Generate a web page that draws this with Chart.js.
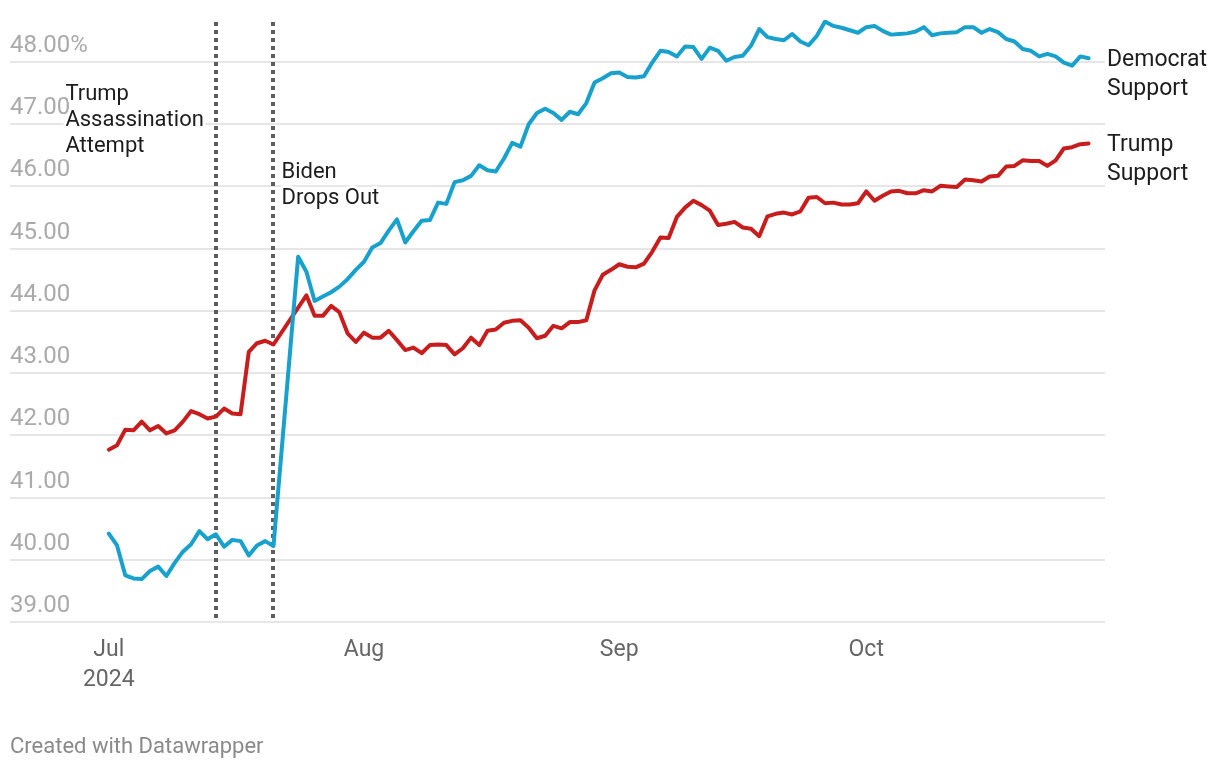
<!DOCTYPE html>
<html>
<head>
<meta charset="utf-8">
<script src="https://cdn.jsdelivr.net/npm/chart.js@4/dist/chart.umd.min.js"></script>
<style>
  html, body { margin: 0; padding: 0; background: #fff; }
  #chart { display: block; }
</style>
</head>
<body>
<canvas id="chart" width="1220" height="768"></canvas>
<script>
// daily values, index 0 = Jul 1 2024
const demSupport = [
  40.42, 40.23, 39.75, 39.70, 39.69, 39.82, 39.89, 39.74, 39.95, 40.13,
  40.25, 40.46, 40.33, 40.41, 40.21, 40.32, 40.30, 40.07, 40.23, 40.30,
  40.22, null, null, 44.87, 44.63, 44.16, 44.23, 44.30, 44.39, 44.51,
  44.66, 44.79, 45.02, 45.09, 45.29, 45.47, 45.10, 45.28, 45.45, 45.46,
  45.74, 45.72, 46.07, 46.10, 46.17, 46.34, 46.26, 46.24, 46.45, 46.70,
  46.64, 47.00, 47.18, 47.25, 47.18, 47.07, 47.20, 47.16, 47.34, 47.67,
  47.74, 47.82, 47.83, 47.76, 47.75, 47.77, 47.99, 48.18, 48.16, 48.09,
  48.25, 48.24, 48.05, 48.23, 48.18, 48.02, 48.08, 48.10, 48.26, 48.53,
  48.40, 48.37, 48.35, 48.45, 48.33, 48.27, 48.42, 48.65, 48.58, 48.55,
  48.51, 48.47, 48.56, 48.58, 48.50, 48.44, 48.45, 48.46, 48.49, 48.56,
  48.43, 48.46, 48.47, 48.48, 48.56, 48.56, 48.47, 48.53, 48.48, 48.37,
  48.33, 48.21, 48.18, 48.09, 48.13, 48.09, 47.99, 47.94, 48.09, 48.06
];
const trumpSupport = [
  41.77, 41.84, 42.09, 42.08, 42.22, 42.08, 42.15, 42.03, 42.08, 42.22,
  42.39, 42.34, 42.27, 42.30, 42.43, 42.35, 42.34, 43.34, 43.48, 43.52,
  43.46, null, null, null, 44.25, 43.92, 43.92, 44.08, 43.98, 43.64,
  43.50, 43.65, 43.57, 43.57, 43.68, 43.53, 43.37, 43.41, 43.32, 43.45,
  43.46, 43.45, 43.30, 43.40, 43.57, 43.45, 43.68, 43.70, 43.81, 43.84,
  43.85, 43.73, 43.56, 43.60, 43.76, 43.72, 43.82, 43.82, 43.85, 44.33,
  44.58, 44.66, 44.75, 44.71, 44.70, 44.76, 44.95, 45.18, 45.17, 45.51,
  45.66, 45.77, 45.70, 45.61, 45.38, 45.40, 45.43, 45.34, 45.32, 45.20,
  45.52, 45.56, 45.58, 45.55, 45.60, 45.82, 45.83, 45.73, 45.74, 45.71,
  45.71, 45.73, 45.92, 45.77, 45.85, 45.92, 45.93, 45.89, 45.89, 45.94,
  45.92, 46.01, 46.00, 45.99, 46.11, 46.10, 46.08, 46.16, 46.17, 46.32,
  46.33, 46.42, 46.41, 46.41, 46.33, 46.42, 46.61, 46.63, 46.68, 46.69
];

const seriesLabels = [['Democrat', 'Support'], ['Trump', 'Support']];
const seriesColors = ['#18a1cd', '#c71e1d'];

// month ticks, as day index from Jul 1
const monthDays = [0, 31, 62, 92];
const monthLabels = [['Jul', '2024'], 'Aug', 'Sep', 'Oct'];

const yTicks = [39, 40, 41, 42, 43, 44, 45, 46, 47, 48];

// event markers: day index, label
const eventDays = [13, 20];
const eventLabels = [['Trump', 'Assassination', 'Attempt'], ['Biden', 'Drops Out']];
const eventLabelValues = [47.48, 46.225];

const FONT = 'Roboto, "Noto Sans", sans-serif';

const toPoints = (arr) => arr.map((v, i) => ({ x: i, y: v }));

const eventsPlugin = {
  id: 'events',
  beforeDatasetsDraw(chart) {
    const { ctx, chartArea, scales } = chart;
    ctx.save();
    ctx.strokeStyle = '#5e5e5e';
    ctx.lineWidth = 4;
    ctx.setLineDash([4, 4]);
    eventDays.forEach((d) => {
      const x = Math.round(scales.x.getPixelForValue(d));
      ctx.beginPath();
      ctx.moveTo(x, chartArea.top + 2);
      ctx.lineTo(x, chartArea.bottom);
      ctx.stroke();
    });
    ctx.restore();
  },
  afterDatasetsDraw(chart) {
    const { ctx, chartArea, scales } = chart;
    ctx.save();
    ctx.font = '22px ' + FONT;
    ctx.textBaseline = 'middle';
    ctx.lineJoin = 'round';
    eventDays.forEach((d, i) => {
      const lineX = scales.x.getPixelForValue(d);
      const lines = eventLabels[i];
      const w = Math.max(...lines.map((t) => ctx.measureText(t).width));
      // first label sits left of its line, second right of it
      const x = i === 0 ? lineX - 12 - w : lineX + 8;
      const y0 = scales.y.getPixelForValue(eventLabelValues[i]);
      lines.forEach((t, k) => {
        const y = y0 + k * 26;
        ctx.strokeStyle = '#fff';
        ctx.lineWidth = 6;
        ctx.strokeText(t, x, y);
        ctx.fillStyle = '#1d1d1d';
        ctx.fillText(t, x, y);
      });
    });

    // series labels at the line ends
    ctx.font = '23px ' + FONT;
    ctx.fillStyle = '#1d1d1d';
    chart.data.datasets.forEach((ds, i) => {
      let last = ds.data.length - 1;
      while (last > 0 && ds.data[last].y == null) last--;
      const y = scales.y.getPixelForValue(ds.data[last].y) + 2;
      seriesLabels[i].forEach((t, k) => {
        ctx.fillText(t, chartArea.right + 2, y + k * 29);
      });
    });

    ctx.font = '22px ' + FONT;
    ctx.fillStyle = '#8a8a8a';
    ctx.textBaseline = 'alphabetic';
    ctx.fillText('Created with Datawrapper', 10, 753);
    ctx.restore();
  }
};

new Chart(document.getElementById('chart'), {
  type: 'line',
  data: {
    datasets: [
      {
        label: 'Democrat Support',
        data: toPoints(demSupport),
        borderColor: seriesColors[0],
        borderWidth: 4,
        pointRadius: 0,
        spanGaps: true,
        tension: 0,
        borderJoinStyle: 'round',
        borderCapStyle: 'round',
      },
      {
        label: 'Trump Support',
        data: toPoints(trumpSupport),
        borderColor: seriesColors[1],
        borderWidth: 4,
        pointRadius: 0,
        spanGaps: true,
        tension: 0,
        borderJoinStyle: 'round',
        borderCapStyle: 'round',
      },
    ],
  },
  options: {
    responsive: false,
    animation: false,
    events: [],
    layout: { padding: { top: 20, right: 115, left: 10, bottom: 0 } },
    plugins: {
      legend: { display: false },
      tooltip: { enabled: false },
    },
    scales: {
      x: {
        type: 'linear',
        min: -12,
        max: 121,
        afterBuildTicks: (s) => { s.ticks = monthDays.map((v) => ({ value: v })); },
        afterFit: (s) => { s.height = 146; },
        grid: { display: false },
        border: { display: false },
        ticks: {
          autoSkip: false,
          maxRotation: 0,
          padding: 5,
          color: '#666',
          font: { family: FONT, size: 23, lineHeight: 1.3 },
          callback: (v) => monthLabels[monthDays.indexOf(v)],
        },
      },
      y: {
        min: 39,
        max: 48.675,
        afterBuildTicks: (s) => { s.ticks = yTicks.map((v) => ({ value: v })); },
        grid: { color: '#e6e6e6', lineWidth: 2, drawTicks: false },
        border: { display: false },
        ticks: {
          mirror: true,
          padding: 0,
          labelOffset: -16,
          color: '#aaaaaa',
          font: { family: FONT, size: 24 },
          callback: (v) => (v === 48 ? '48.00%' : v.toFixed(2)),
        },
      },
    },
  },
  plugins: [eventsPlugin],
});
</script>
</body>
</html>
